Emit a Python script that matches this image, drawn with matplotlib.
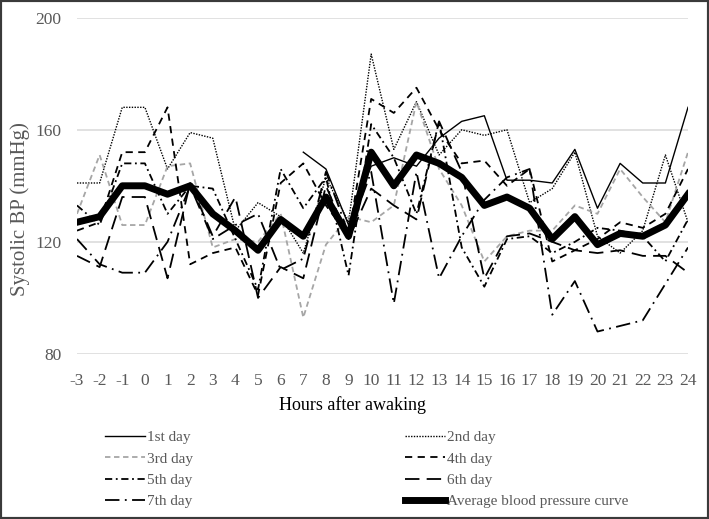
import numpy as np
import matplotlib.pyplot as plt
from matplotlib.patches import Rectangle

# hours after awaking
hours = list(range(-3, 25))

# systolic BP (mmHg) per day
day1 = [np.nan] * 10 + [152, 146, 126, 147, 150, 147, 157, 163, 165, 142,
                        142, 141, 153, 132, 148, 141, 141, 168]
day2 = [141, 141, 168, 168, 146, 159, 157, 124, 134, 129, 116, 143, 127, 187,
        153, 170, 151, 160, 158, 160, 134, 139, 152, 122, 116, 124, 151, 127]
day3 = [130, 151, 126, 126, 147, 148, 118, 121, 120, 130, 93, 119, 129, 127,
        133, 170, 146, 133, 113, 122, 124, 124, 133, 130, 146, 136, 127, 152]
day4 = [124, 127, 152, 152, 168, 112, 116, 118, 101, 141, 148, 133, 122, 171,
        166, 175, 160, 148, 149, 140, 146, 113, 117, 121, 127, 125, 130, 146]
day5 = [133, 126, 148, 148, 130, 140, 139, 121, 103, 146, 132, 143, 108, 162,
        150, 130, 163, 118, 104, 121, 122, 116, 120, 125, 124, 122, 113, 128]
day6 = [115, 111, 136, 136, 107, 141, 122, 136, 100, 111, 107, 140, 121, 139,
        133, 128, 163, 145, 107, 122, 123, 120, 117, 116, 117, 115, 115, 109]
day7 = [121, 112, 109, 109, 120, 140, 121, 126, 130, 110, 114, 145, 123, 145,
        98, 145, 107, 122, 135, 143, 146, 94, 106, 88, 90, 92, 105, 118]
average = [127, 129, 140, 140, 137, 140, 130, 124, 117, 128, 122, 136, 122, 152,
           140, 151, 148, 143, 133, 136, 132, 121, 129, 119, 123, 122, 126, 137]

labels = ["1st day", "2nd day", "3rd day", "4th day", "5th day", "6th day",
          "7th day", "Average blood pressure curve"]

plt.rcParams["font.family"] = ["Liberation Serif", "DejaVu Serif"]
plt.rcParams["axes.unicode_minus"] = False
grey_txt = "#595959"

fig = plt.figure(figsize=(7.09, 5.19), dpi=100)
ax = fig.add_axes([0.1086, 0.318, 0.8618, 0.648])

styles = [
    dict(color="black", lw=1.0, ls="-"),
    dict(color="black", lw=1.0, ls=(0, (1, 1))),
    dict(color="#a6a6a6", lw=1.3, ls=(0, (3, 2))),
    dict(color="black", lw=1.3, ls=(0, (4, 3))),
    dict(color="black", lw=1.3, ls=(0, (4, 2, 1, 2))),
    dict(color="black", lw=1.3, ls=(0, (8, 4))),
    dict(color="black", lw=1.3, ls=(0, (8, 3, 1, 3))),
]
series = [day1, day2, day3, day4, day5, day6, day7]
handles = []
for data, st, lab in zip(series, styles, labels):
    h, = ax.plot(hours, data, label=lab, **st)
    handles.append(h)
h_avg, = ax.plot(hours, average, color="black", lw=5, solid_joinstyle="round",
                 label=labels[-1], zorder=5)
handles.append(h_avg)

ax.set_xlim(-3, 24)
ax.set_ylim(80, 200)
ax.set_yticks([80, 120, 160, 200])
ax.set_xticks(hours)
ax.grid(axis="y", color="#dcdcdc", lw=1.2)
ax.set_axisbelow(True)
for s in ax.spines.values():
    s.set_visible(False)
ax.tick_params(length=0, labelsize=12.5, colors=grey_txt)
ax.tick_params(axis="x", pad=14)
ax.tick_params(axis="y", pad=11)

ax.set_ylabel("Systolic BP (mmHg)", fontsize=15, color=grey_txt)
ax.yaxis.set_label_coords(-0.077, 0.43)
fig.text(0.497, 0.22, "Hours after awaking", ha="center", va="center",
         fontsize=13, color="black")

order = [0, 2, 4, 6, 1, 3, 5, 7]
leg = fig.legend([handles[i] for i in order], [labels[i] for i in order],
                 ncol=2, loc="upper left", bbox_to_anchor=(0.148, 0.170),
                 frameon=False, fontsize=11, handlelength=2.6,
                 handletextpad=0.15, labelspacing=0.5, columnspacing=13.9,
                 borderpad=0, borderaxespad=0)
for t in leg.get_texts():
    t.set_color(grey_txt)

fig.patches.append(Rectangle((0, 0), 1, 1, transform=fig.transFigure,
                             fill=False, lw=3, edgecolor="#3a3a3a"))

fig.savefig("out.png", dpi=100)
